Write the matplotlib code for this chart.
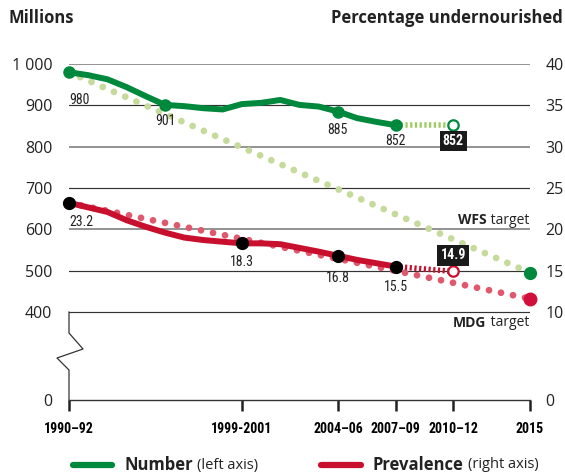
import matplotlib
matplotlib.use('Agg')
import matplotlib.pyplot as plt
import numpy as np
from matplotlib import font_manager as fm

available = {f.name for f in fm.fontManager.ttflist}
def pick(cands):
    for c in cands:
        if c in available:
            return c
    return 'DejaVu Sans'
MAIN = pick(['Open Sans', 'Noto Sans', 'Lato', 'DejaVu Sans'])
NARROW = pick(['Liberation Sans Narrow', 'Roboto Condensed', 'Open Sans Condensed', 'DejaVu Sans Condensed', 'Roboto'])

# ---------------- data ----------------
number_years = list(range(1991, 2009))
number_values = [980, 973, 963, 944, 922, 901, 898, 893, 890, 903, 906, 913, 901, 897, 885, 869, 860, 852]
number_key_years = [1991, 1996, 2005, 2008]
number_key_values = [980, 901, 885, 852]
number_proj_years = [2008, 2011]
number_proj_values = [852, 852]
wfs_years = [1991, 2015]
wfs_values = [980, 495]

prev_years = list(range(1991, 2009))
prev_values = [23.2, 22.65, 22.1, 21.1, 20.3, 19.6, 19.0, 18.7, 18.5, 18.3, 18.3, 18.2, 17.75, 17.3, 16.8, 16.3, 15.9, 15.5]
prev_key_years = [1991, 2000, 2005, 2008]
prev_key_values = [23.2, 18.3, 16.8, 15.5]
prev_proj_years = [2008, 2011]
prev_proj_values = [15.5, 14.9]
mdg_years = [1991, 2015]
mdg_values = [23.2, 11.6]

tick_positions = [1991, 2000, 2005, 2008, 2011, 2015]
tick_labels = ['1990–92', '1999-2001', '2004–06', '2007–09', '2010–12', '2015']
left_ticks = [0, 400, 500, 600, 700, 800, 900, 1000]
left_tick_labels = ['0', '400', '500', '600', '700', '800', '900', '1 000']
right_ticks = [0, 10, 15, 20, 25, 30, 35, 40]
right_tick_labels = ['0', '10', '15', '20', '25', '30', '35', '40']

GREEN = '#00893d'
LIGHTGREEN = '#c6da9b'
PROJGREEN = '#9ccb5e'
RED = '#c8102e'
PINK = '#e0586e'
ENDRED = '#d0103a'

plt.rcParams['font.family'] = [MAIN, 'DejaVu Sans']

W, H = 565, 474
fig = plt.figure(figsize=(W / 100, H / 100), dpi=100)
x0, x1, ytop, ybot = 69, 530, 64, 400
ax = fig.add_axes([x0 / W, 1 - ybot / H, (x1 - x0) / W, (ybot - ytop) / H])
ax.patch.set_alpha(0)

def fwd_l(v):
    v = np.asarray(v, float)
    return np.where(v >= 400, v, 400 - (400 - v) * 0.5325)
def inv_l(y):
    y = np.asarray(y, float)
    return np.where(y >= 400, y, 400 - (400 - y) / 0.5325)
def fwd_r(v):
    v = np.asarray(v, float)
    return np.where(v >= 10, v, 10 - (10 - v) * 1.065)
def inv_r(y):
    y = np.asarray(y, float)
    return np.where(y >= 10, y, 10 - (10 - y) / 1.065)

ax.set_yscale('function', functions=(fwd_l, inv_l))
ax.set_xlim(1991, 2015)
ax.set_ylim(0, 1000)
ax2 = ax.twinx()
ax2.set_yscale('function', functions=(fwd_r, inv_r))
ax2.set_ylim(0, 40)
ax2.patch.set_alpha(0)

for a in (ax, ax2):
    for s in a.spines.values():
        s.set_visible(False)
ax.spines['bottom'].set_visible(True)
ax.spines['bottom'].set_color('#333333')
ax.spines['bottom'].set_linewidth(1.0)

# grid lines
for v in [400, 500, 600, 700, 800, 900, 1000]:
    if v in (600, 800, 1000):
        ax.axhline(v, color='#8a8a8a', lw=1.3, zorder=1)
    else:
        ax.axhline(v, color='#333333', lw=0.85, zorder=1)

# broken left axis
zig_px = [(69, 312), (69, 333), (83, 349), (57, 358), (69, 370), (69, 400)]
zx = [(px - x0) / (x1 - x0) for px, py in zig_px]
zy = [(ybot - py) / (ybot - ytop) for px, py in zig_px]
ax.plot(zx, zy, transform=ax.transAxes, color='#333333', lw=0.9, clip_on=False, zorder=2)

# ticks
ax.set_xticks(tick_positions)
ax.set_xticklabels(tick_labels, fontfamily=NARROW, fontweight='bold', fontsize=10)
ax.tick_params(axis='x', direction='out', length=8, width=1.8, color='#222222', pad=8)
ax.set_yticks(left_ticks)
ax.set_yticklabels(left_tick_labels, fontsize=11.5, color='#222222')
ax.tick_params(axis='y', length=0, pad=12)
ax2.set_yticks(right_ticks)
ax2.set_yticklabels(right_tick_labels, fontsize=11.5, color='#222222')
ax2.tick_params(axis='y', length=0, pad=11)
ax.minorticks_off(); ax2.minorticks_off()

dot_style = (0, (0.001, 1.8))
# target lines
ax.plot(wfs_years, wfs_values, color=LIGHTGREEN, lw=4.9, linestyle=dot_style,
        dash_capstyle='round', zorder=3, clip_on=False)
ax.plot([wfs_years[-1]], [wfs_values[-1]], 'o', color=GREEN, ms=8.5, zorder=6, clip_on=False)
ax2.plot(mdg_years, mdg_values, color=PINK, lw=4.9, linestyle=dot_style,
         dash_capstyle='round', zorder=3, clip_on=False)
ax2.plot([mdg_years[-1]], [mdg_values[-1]], 'o', color=ENDRED, ms=9, zorder=6, clip_on=False)

# number series
ax.plot(number_years, number_values, color=GREEN, lw=4.3, solid_capstyle='round',
        solid_joinstyle='round', zorder=4, clip_on=False)
ax.plot(number_proj_years, number_proj_values, color=PROJGREEN, lw=4.0,
        linestyle=(0, (0.4, 0.45)), zorder=3.5, clip_on=False)
ax.plot(number_key_years, number_key_values, 'o', color=GREEN, ms=8, zorder=5, clip_on=False)
ax.plot([number_proj_years[-1]], [number_proj_values[-1]], 'o', mfc='white', mec=GREEN,
        mew=1.6, ms=7.5, zorder=5, clip_on=False)

# prevalence series
ax2.plot(prev_years, prev_values, color=RED, lw=4.3, solid_capstyle='round',
         solid_joinstyle='round', zorder=4, clip_on=False)
ax2.plot(prev_proj_years, prev_proj_values, color=RED, lw=4.0,
         linestyle=(0, (0.4, 0.45)), zorder=3.5, clip_on=False)
ax2.plot(prev_key_years, prev_key_values, 'o', color='black', ms=8.5, zorder=5, clip_on=False)
ax2.plot([prev_proj_years[-1]], [prev_proj_values[-1]], 'o', mfc='white', mec=RED,
         mew=1.6, ms=7.5, zorder=5, clip_on=False)

# value labels
lab_kw = dict(textcoords='offset pixels', fontsize=10, fontfamily=NARROW, color='#222222',
              va='center', zorder=7)
num_offsets = [(0, -28, 'left'), (0, -16, 'center'), (0, -18, 'center'), (0, -16, 'center')]
for xv, yv, (dx, dy, ha) in zip(number_key_years, number_key_values, num_offsets):
    ax.annotate(f'{yv}', (xv, yv), xytext=(dx, dy), ha=ha, **lab_kw)
prev_offsets = [(0, -19, 'left'), (0, -19, 'center'), (0, -22, 'center'), (0, -20, 'center')]
for xv, yv, (dx, dy, ha) in zip(prev_key_years, prev_key_values, prev_offsets):
    ax2.annotate(f'{yv}', (xv, yv), xytext=(dx, dy), ha=ha, **lab_kw)

box = dict(boxstyle='square,pad=0.22', fc='#1a1a1a', ec='none')
ax.annotate(f'{number_proj_values[-1]}', (number_proj_years[-1], number_proj_values[-1]),
            xytext=(0, -16), textcoords='offset pixels', ha='center', va='center',
            fontsize=10, fontfamily=NARROW, fontweight='bold', color='white', bbox=box, zorder=7)
ax2.annotate(f'{prev_proj_values[-1]}', (prev_proj_years[-1], prev_proj_values[-1]),
             xytext=(0, 16), textcoords='offset pixels', ha='center', va='center',
             fontsize=10, fontfamily=NARROW, fontweight='bold', color='white', bbox=box, zorder=7)

fig.canvas.draw()
renderer = fig.canvas.get_renderer()

def two_part_right(xpx, ypx, bold, normal, size):
    t2 = fig.text(xpx / W, 1 - ypx / H, normal, ha='right', va='center', fontsize=size, color='#222222')
    bb = t2.get_window_extent(renderer)
    fig.text(bb.x0 / W, 1 - ypx / H, bold, ha='right', va='center', fontsize=size,
             fontweight='bold', color='#222222')

two_part_right(529, 220, 'WFS', ' target', 10)
two_part_right(529, 323, 'MDG', ' target', 10)

# headers
fig.text(8 / W, 1 - 18 / H, 'Millions', fontsize=12, fontweight='bold', va='center', color='#222222')
fig.text(563 / W, 1 - 18 / H, 'Percentage undernourished', fontsize=12, fontweight='bold',
         va='center', ha='right', color='#222222')

# legend
def legend_item(xl0, xl1, ypx, color, bold, normal):
    fig.add_artist(plt.Line2D([xl0 / W, xl1 / W], [1 - ypx / H, 1 - ypx / H], color=color,
                              lw=4.5, solid_capstyle='round', transform=fig.transFigure))
    t = fig.text((xl1 + 12) / W, 1 - ypx / H, bold, fontsize=12, fontweight='bold', va='center',
                 color='#222222')
    bb = t.get_window_extent(renderer)
    fig.text((bb.x1 + 4) / W, 1 - ypx / H, normal, fontsize=10.5, va='center', color='#222222')

legend_item(73, 112, 465, GREEN, 'Number', '(left axis)')
legend_item(321, 361, 465, RED, 'Prevalence', '(right axis)')

fig.savefig('out.png', dpi=100)
